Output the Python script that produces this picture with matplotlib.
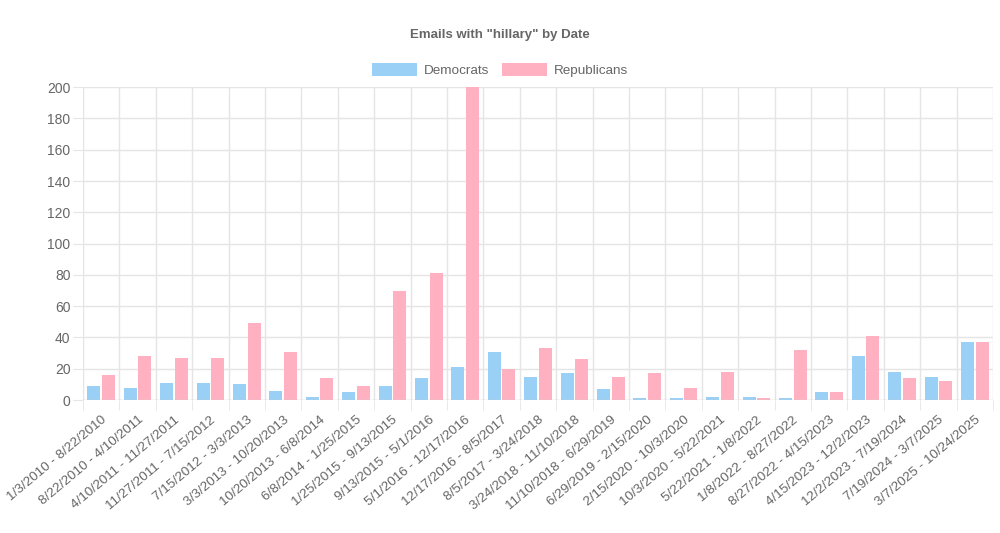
import matplotlib.pyplot as plt
import numpy as np

plt.rcParams['font.family'] = ['Liberation Sans', 'DejaVu Sans']

# date ranges
labels = [
    "1/3/2010 - 8/22/2010", "8/22/2010 - 4/10/2011", "4/10/2011 - 11/27/2011",
    "11/27/2011 - 7/15/2012", "7/15/2012 - 3/3/2013", "3/3/2013 - 10/20/2013",
    "10/20/2013 - 6/8/2014", "6/8/2014 - 1/25/2015", "1/25/2015 - 9/13/2015",
    "9/13/2015 - 5/1/2016", "5/1/2016 - 12/17/2016", "12/17/2016 - 8/5/2017",
    "8/5/2017 - 3/24/2018", "3/24/2018 - 11/10/2018", "11/10/2018 - 6/29/2019",
    "6/29/2019 - 2/15/2020", "2/15/2020 - 10/3/2020", "10/3/2020 - 5/22/2021",
    "5/22/2021 - 1/8/2022", "1/8/2022 - 8/27/2022", "8/27/2022 - 4/15/2023",
    "4/15/2023 - 12/2/2023", "12/2/2023 - 7/19/2024", "7/19/2024 - 3/7/2025",
    "3/7/2025 - 10/24/2025",
]
democrats = [9, 8, 11, 11, 10, 6, 2, 5, 9, 14, 21, 31, 15, 17, 7, 1, 1, 2, 2, 1, 5, 28, 18, 15, 37]
republicans = [16, 28, 27, 27, 49, 31, 14, 9, 70, 81, 200, 20, 33, 26, 15, 17, 8, 18, 1, 32, 5, 41, 14, 12, 37]

blue = '#9ad0f5'
pink = '#ffb1c1'
txt = '#666666'
grid = '#e5e5e5'

fig = plt.figure(figsize=(10, 5.33), dpi=100)
ax = fig.add_axes([0.083, 0.2495, 0.91, 0.587])

x = np.arange(len(labels))
w = 0.8 / 2 * 0.9
gap = 0.8 / 2 * 0.1
ax.bar(x - gap / 2 - w / 2, democrats, w, color=blue, label='Democrats', zorder=3)
ax.bar(x + gap / 2 + w / 2, republicans, w, color=pink, label='Republicans', zorder=3)

ax.set_xlim(-0.5, len(labels) - 0.5)
ax.set_ylim(0, 200)
ax.set_yticks(range(0, 201, 20))

# grid at category boundaries, like chart.js
for b in np.arange(-0.5, len(labels), 1):
    ax.axvline(b, color=grid, lw=1, zorder=1)
for yv in range(20, 201, 20):
    ax.axhline(yv, color=grid, lw=1, zorder=1)
ax.axhline(0, color='#cccccc', lw=1, zorder=4)

ax.set_xticks(np.arange(-0.5, len(labels), 1), minor=True)
ax.tick_params(axis='x', which='minor', length=7, color=grid)
ax.set_xticks(x)
ax.set_xticklabels(labels, rotation=40, ha='right', rotation_mode='anchor',
                   fontsize=9.7, color=txt)
ax.tick_params(axis='x', which='major', length=0, pad=10)
ax.tick_params(axis='y', length=7, color=grid, labelsize=10, labelcolor=txt, pad=2)
for s in ax.spines.values():
    s.set_visible(False)

fig.text(0.5, 0.934, 'Emails with "hillary" by Date', ha='center', va='center',
         fontsize=9.5, fontweight='bold', color=txt)
fig.legend(loc='center', bbox_to_anchor=(0.5, 0.868), ncol=2, frameon=False,
           fontsize=9.7, labelcolor=txt, handlelength=3.3, handleheight=1.1,
           columnspacing=1.0, handletextpad=0.5)

fig.savefig('out.png', dpi=100)
